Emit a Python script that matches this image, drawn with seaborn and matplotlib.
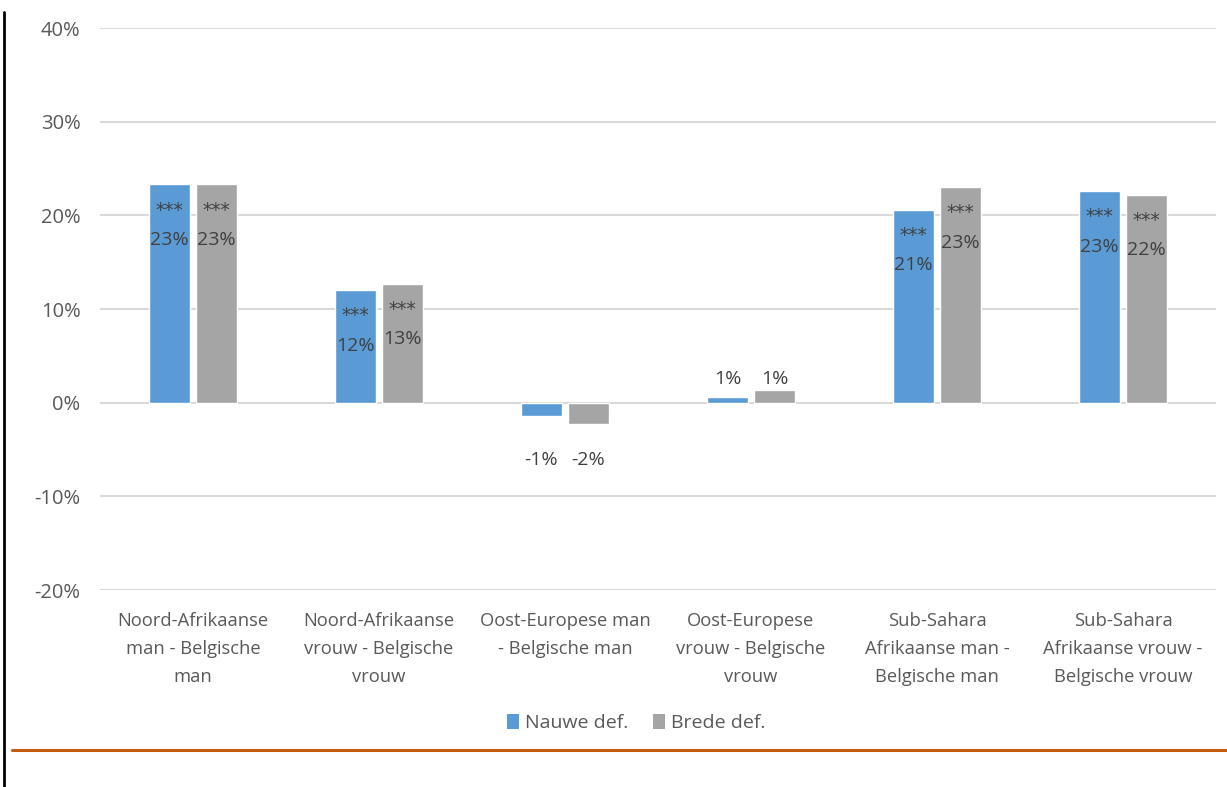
import matplotlib
matplotlib.use("Agg")
import matplotlib.pyplot as plt
from matplotlib.lines import Line2D
from matplotlib.patches import Patch
import seaborn as sns
import pandas as pd

categories = [
    "Noord-Afrikaanse\nman - Belgische\nman",
    "Noord-Afrikaanse\nvrouw - Belgische\nvrouw",
    "Oost-Europese man\n- Belgische man",
    "Oost-Europese\nvrouw - Belgische\nvrouw",
    "Sub-Sahara\nAfrikaanse man -\nBelgische man",
    "Sub-Sahara\nAfrikaanse vrouw -\nBelgische vrouw",
]
series = ["Nauwe def.", "Brede def."]
nauwe = [23.3, 12.0, -1.45, 0.65, 20.6, 22.6]
brede = [23.3, 12.7, -2.3, 1.3, 23.0, 22.2]
stars_nauwe = ["***", "***", "", "", "***", "***"]
stars_brede = ["***", "***", "", "", "***", "***"]
yticks = [-20, -10, 0, 10, 20, 30, 40]

df = pd.DataFrame({
    "cat": categories * 2,
    "def": [series[0]] * 6 + [series[1]] * 6,
    "val": nauwe + brede,
})

sns.set_theme(style="white")
plt.rcParams["font.family"] = ["Open Sans", "DejaVu Sans"]

colors = {series[0]: "#5B9BD5", series[1]: "#A5A5A5"}
text_col = "#595959"
label_col = "#404040"

fig = plt.figure(figsize=(12.27, 7.87), dpi=100)
ax = fig.add_axes([100 / 1227, 1 - 590 / 787, 1116 / 1227, 562 / 787])

sns.barplot(data=df, x="cat", y="val", hue="def", hue_order=series,
            order=categories, palette=colors, width=0.505, gap=0.11,
            saturation=1, legend=False, ax=ax, errorbar=None)

ax.set_xlim(-0.5, len(categories) - 0.5)
ax.set_ylim(-20, 40)
ax.set_yticks(yticks)
ax.set_yticklabels([f"{t}%" for t in yticks], color=text_col, fontsize=14.5)
ax.yaxis.grid(True, color="#D9D9D9", linewidth=1.5)
ax.set_axisbelow(True)
for s in ax.spines.values():
    s.set_visible(False)
ax.tick_params(axis="y", length=0, pad=14)
ax.tick_params(axis="x", length=0, pad=16)
ax.set_xlabel("")
ax.set_ylabel("")
ax.set_xticks(range(len(categories)))
ax.set_xticklabels(categories, color=text_col, fontsize=13.2, linespacing=1.7)

# Value labels (significance stars + rounded percentage)
for i, (bar_cont, stars) in enumerate(zip(ax.containers, [stars_nauwe, stars_brede])):
    vals = nauwe if i == 0 else brede
    for patch, v, st in zip(bar_cont.patches, vals, stars):
        xc = patch.get_x() + patch.get_width() / 2
        txt = f"{round(v):d}%"
        if st:
            ax.annotate(st, (xc, v), xytext=(0, -18.5), textcoords="offset points",
                        ha="center", va="center", fontsize=13.5, color=label_col,
                        family="DejaVu Sans")
            ax.annotate(txt, (xc, v), xytext=(0, -40), textcoords="offset points",
                        ha="center", va="center", fontsize=14, color=label_col)
        elif v < 0:
            ax.annotate(txt, (xc, 0), xytext=(0, -41.5), textcoords="offset points",
                        ha="center", va="center", fontsize=14, color=label_col)
        else:
            ax.annotate(txt, (xc, 0), xytext=(0, 17), textcoords="offset points",
                        ha="center", va="center", fontsize=14, color=label_col)

handles = [Patch(facecolor=colors[s], edgecolor="none") for s in series]
fig.legend(handles, series, loc="center", bbox_to_anchor=(636 / 1227, 1 - 723 / 787),
           ncol=2, frameon=False, fontsize=14, handlelength=0.6, handleheight=0.8,
           handletextpad=0.3, columnspacing=1.3, labelcolor=text_col)

# Page decorations: left rule and orange separator
fig.add_artist(Line2D([4 / 1227, 4 / 1227], [0, 1 - 12 / 787], color="black",
                      linewidth=2, transform=fig.transFigure))
fig.add_artist(Line2D([12 / 1227, 1], [1 - 750 / 787, 1 - 750 / 787], color="#C55A11",
                      linewidth=2.2, transform=fig.transFigure))

fig.savefig("out.png", dpi=100, facecolor="white")
